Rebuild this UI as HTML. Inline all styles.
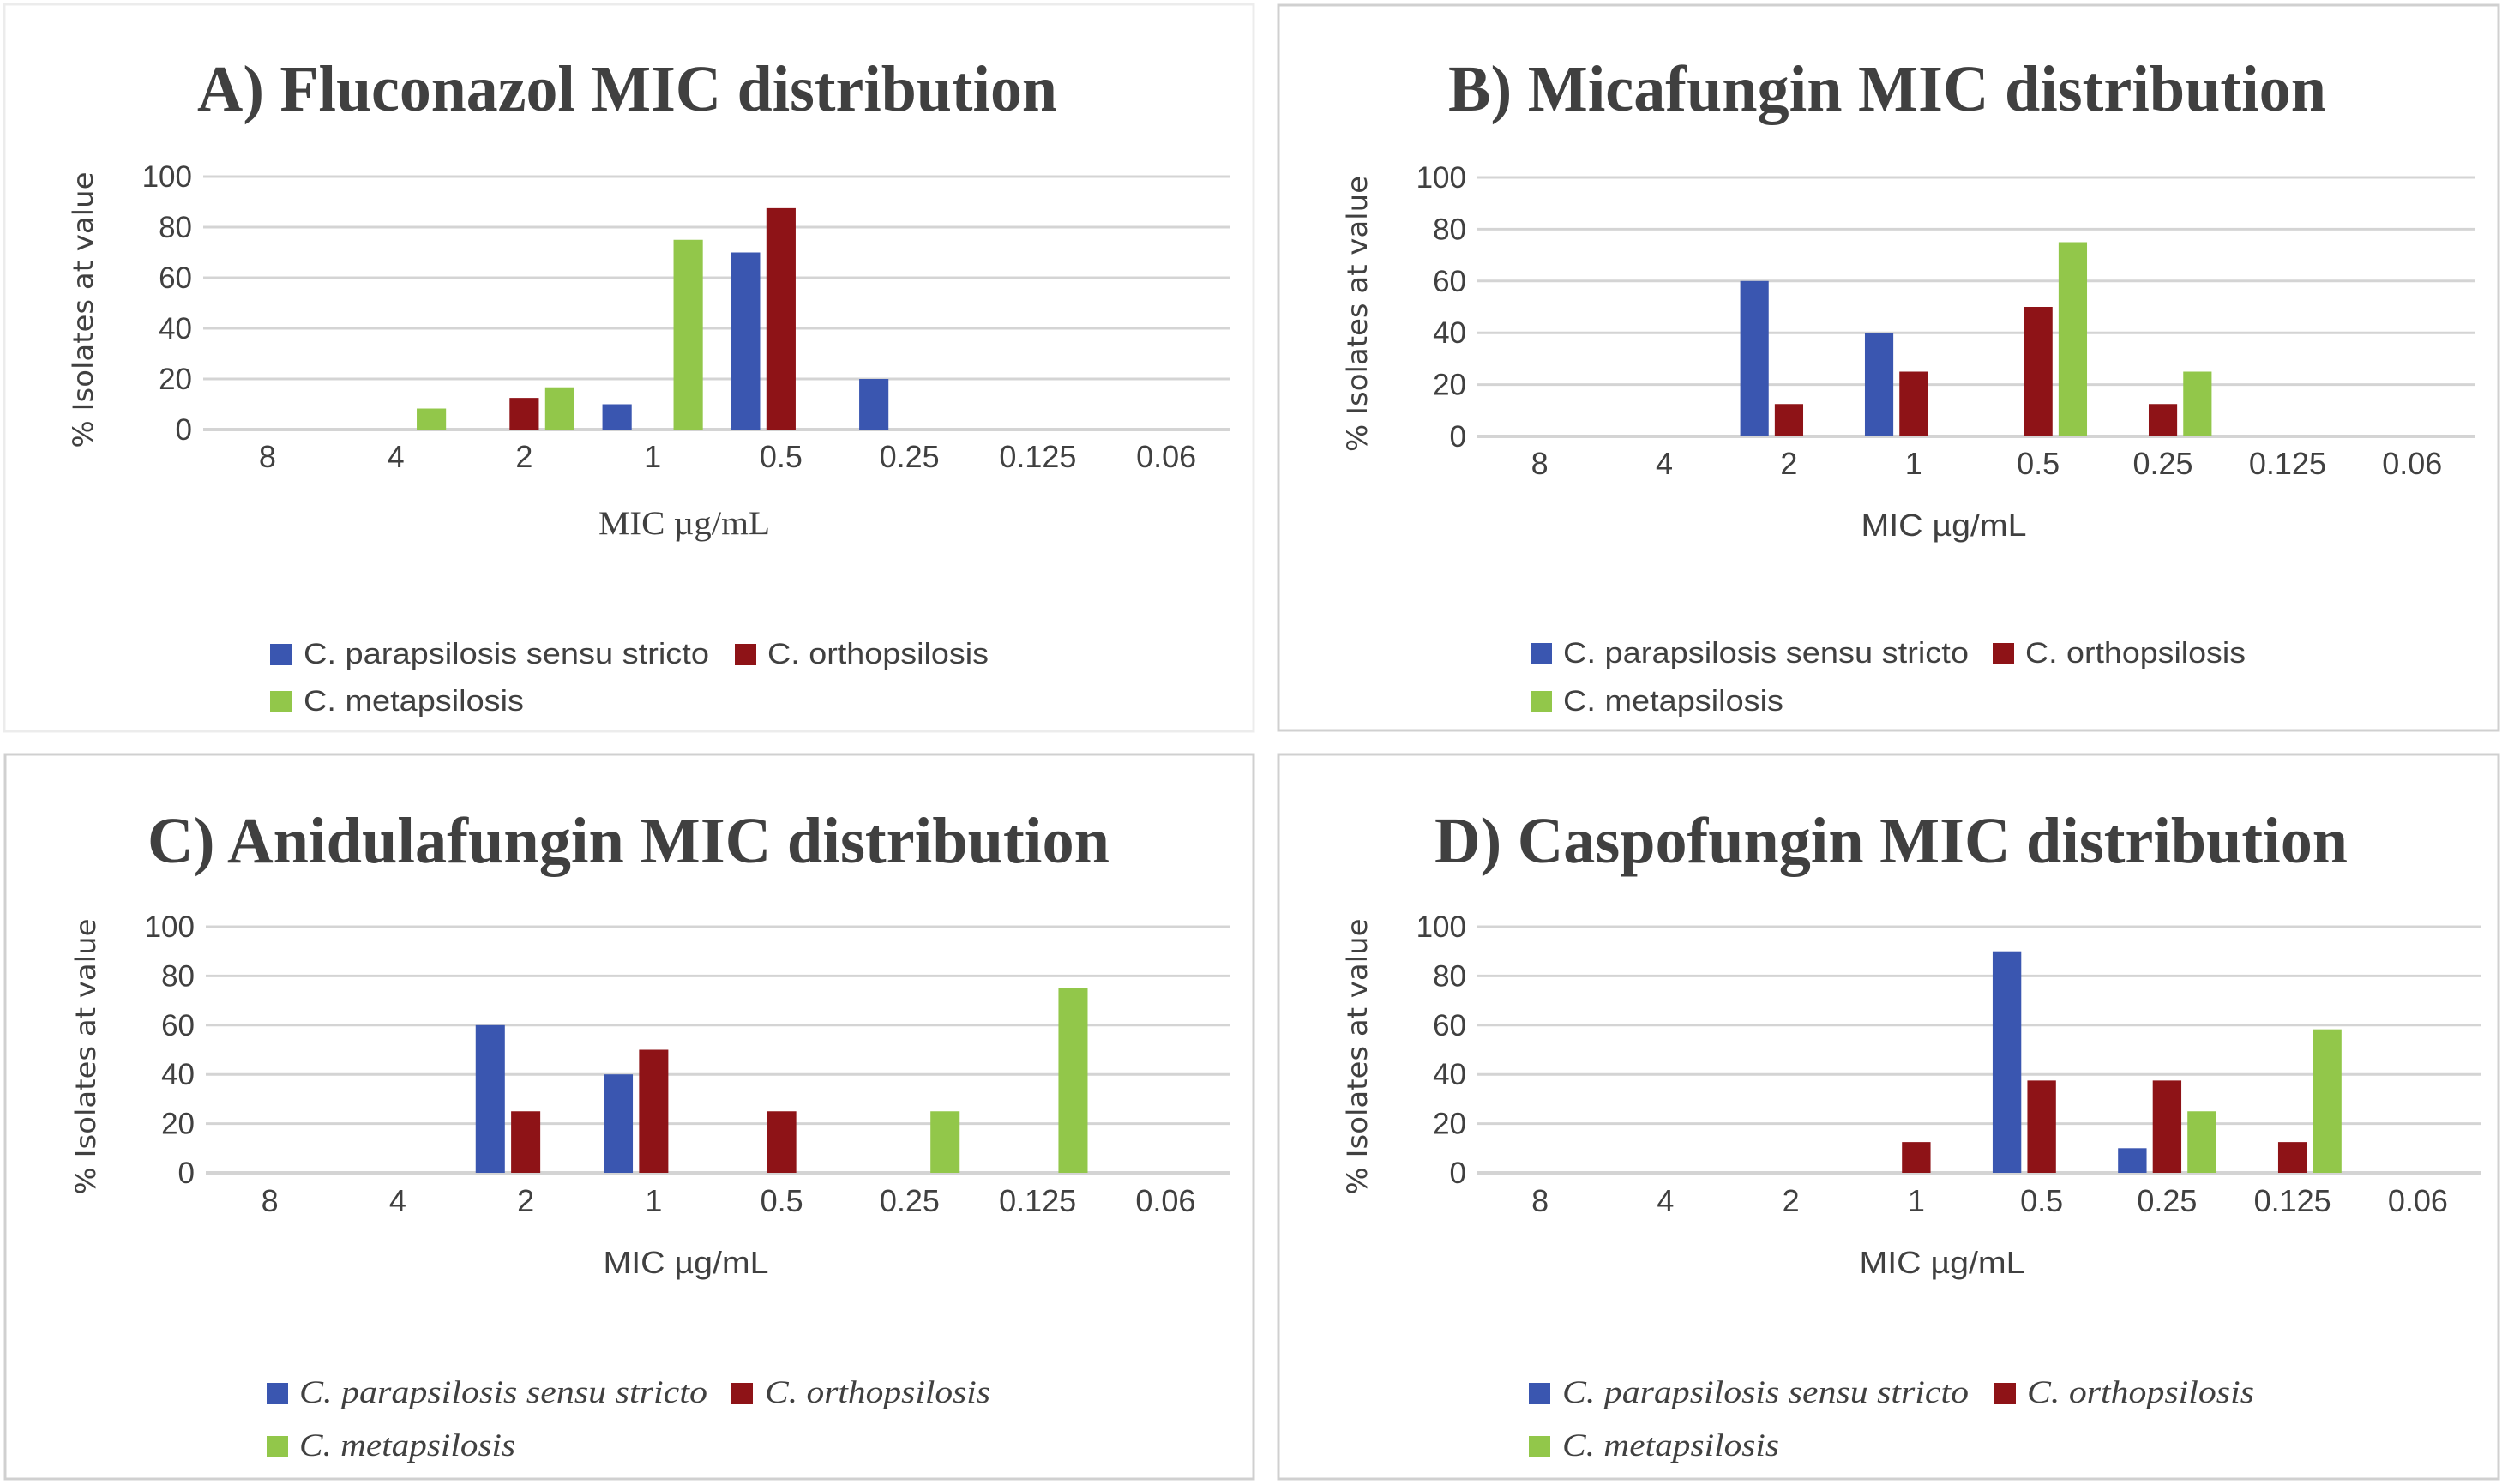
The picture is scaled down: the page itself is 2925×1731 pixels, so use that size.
<!DOCTYPE html>
<html><head><meta charset="utf-8"><style>
html,body{margin:0;padding:0;background:#fff;}
svg{display:block;}
</style></head><body>
<svg id="fig" width="2925" height="1731" viewBox="0 0 2925 1731" xmlns="http://www.w3.org/2000/svg"></svg>
<script>
const categories = ["8","4","2","1","0.5","0.25","0.125","0.06"];
const yTicks = [0,20,40,60,80,100];
const seriesNames = ["C. parapsilosis sensu stricto","C. orthopsilosis","C. metapsilosis"];
const flucoPara  = [0,0,0,10,70,20,0,0];
const flucoOrtho = [0,0,12.5,0,87.5,0,0,0];
const flucoMeta  = [0,8.3,16.7,75,0,0,0,0];
const micaPara   = [0,0,60,40,0,0,0,0];
const micaOrtho  = [0,0,12.5,25,50,12.5,0,0];
const micaMeta   = [0,0,0,0,75,25,0,0];
const anidPara   = [0,0,60,40,0,0,0,0];
const anidOrtho  = [0,0,25,50,25,0,0,0];
const anidMeta   = [0,0,0,0,0,25,75,0];
const caspPara   = [0,0,0,0,90,10,0,0];
const caspOrtho  = [0,0,0,12.5,37.5,37.5,12.5,0];
const caspMeta   = [0,0,0,0,0,25,58.3,0];

const colors = ["#3A56B0","#8E1317","#92C74A"];
const NS = "http://www.w3.org/2000/svg";
const svg = document.getElementById("fig");

const panels = [
 {id:"a", title:"A) Fluconazol MIC distribution", series:[flucoPara,flucoOrtho,flucoMeta],
  border:[5,5,1462,853], borderColor:"#ececec", titleX:[230,1233], titleY:129,
  plot:[237,1435,206,501], xlabY:545, ytitleX:96, xtitle:{x:798,y:623,serif:true,w:200},
  leg:{sq:[315,857,315], tx:[354,895,354], tw:[473,258,257], ry:[751,751,806], italic:false}},
 {id:"b", title:"B) Micafungin MIC distribution", series:[micaPara,micaOrtho,micaMeta],
  border:[1491,6,2914,852], borderColor:"#d0d0d0", titleX:[1689,2713], titleY:129,
  plot:[1723,2886,207,509], xlabY:553, ytitleX:1582, xtitle:{x:2267,y:625,serif:false,w:193},
  leg:{sq:[1785,2324,1785], tx:[1823,2362,1823], tw:[473,257,257], ry:[750,750,806], italic:false}},
 {id:"c", title:"C) Anidulafungin MIC distribution", series:[anidPara,anidOrtho,anidMeta],
  border:[6,880,1462,1725], borderColor:"#d0d0d0", titleX:[172,1294], titleY:1006,
  plot:[240,1434,1081,1368], xlabY:1413, ytitleX:99, xtitle:{x:800,y:1485,serif:false,w:193},
  leg:{sq:[311,853,311], tx:[349,892,349], tw:[476,263,252], ry:[1613,1613,1675], italic:true}},
 {id:"d", title:"D) Caspofungin MIC distribution", series:[caspPara,caspOrtho,caspMeta],
  border:[1491,880,2914,1725], borderColor:"#d0d0d0", titleX:[1673,2738], titleY:1006,
  plot:[1723,2893,1081,1368], xlabY:1413, ytitleX:1582, xtitle:{x:2265,y:1485,serif:false,w:193},
  leg:{sq:[1783,2326,1783], tx:[1822,2364,1822], tw:[474,265,253], ry:[1613,1613,1675], italic:true}}
];

function el(tag, attrs, parent){
  const e = document.createElementNS(NS, tag);
  for (const k in attrs) e.setAttribute(k, attrs[k]);
  parent.appendChild(e);
  return e;
}

panels.forEach(p => {
  const g = el("g", {}, svg);
  
  

  const b = el("rect", {x:p.border[0], y:p.border[1], width:p.border[2]-p.border[0], height:p.border[3]-p.border[1], fill:"#fff", stroke:p.borderColor, "stroke-width":3}, g);
  
  

  const t = el("text", {x:p.titleX[0], y:p.titleY, "font-family":"Liberation Serif, serif", "font-weight":"bold", "font-size":76, fill:"#404040", textLength:p.titleX[1]-p.titleX[0], lengthAdjust:"spacingAndGlyphs"}, g);
  t.textContent = p.title;
  
  

  const [x0,x1,yTop,y0] = p.plot;
  const yScale = v => y0 - (v/100)*(y0-yTop);
  const cw = (x1-x0)/categories.length;
  const xCenter = i => x0 + cw*(i+0.5);

  yTicks.forEach(v => {
    const ln = el("line", {x1:x0, x2:x1, y1:yScale(v), y2:yScale(v), stroke:"#d4d4d4", "stroke-width":v===0?4:3}, g);
    
    
    const tl = el("text", {x:x0-13, y:yScale(v)+12, "text-anchor":"end", "font-family":"Liberation Sans, sans-serif", "font-size":35, fill:"#404040"}, g);
    tl.textContent = String(v);
    
    
  });

  categories.forEach((c,i) => {
    const tl = el("text", {x:xCenter(i), y:p.xlabY, "text-anchor":"middle", "font-family":"Liberation Sans, sans-serif", "font-size":36, fill:"#404040"}, g);
    tl.textContent = c;
    
    
  });

  const bw = cw*0.228, step = cw*0.277;
  p.series.forEach((vals, s) => {
    vals.forEach((v,i) => {
      if (v <= 0) return;
      const cx = xCenter(i) + (s-1)*step;
      const r = el("rect", {x:cx-bw/2, y:yScale(v), width:bw, height:y0-yScale(v), fill:colors[s]}, g);
      
      
    });
  });

  const ycy = (yTop + y0)/2 + 8;
  const yt = el("text", {x:p.ytitleX+12, y:ycy, transform:"rotate(-90 "+(p.ytitleX+12)+" "+ycy+")", "text-anchor":"middle", "font-family":"DejaVu Sans, sans-serif", "font-size":32, fill:"#404040", textLength:322, lengthAdjust:"spacingAndGlyphs"}, g);
  yt.textContent = "% Isolates at value";
  
  

  const xt = el("text", {x:p.xtitle.x, y:p.xtitle.y, "text-anchor":"middle", "font-family":p.xtitle.serif?"Liberation Serif, serif":"Liberation Sans, sans-serif", "font-size":p.xtitle.serif?39:36, fill:"#404040", textLength:p.xtitle.w, lengthAdjust:"spacingAndGlyphs"}, g);
  xt.textContent = "MIC µg/mL";
  
  

  seriesNames.forEach((n,s) => {
    const lg = el("g", {}, g);
    
    
    el("rect", {x:p.leg.sq[s], y:p.leg.ry[s], width:25, height:25, fill:colors[s]}, lg);
    const lt = el("text", {x:p.leg.tx[s], y:p.leg.ry[s]+23, "font-family":p.leg.italic?"Liberation Serif, serif":"Liberation Sans, sans-serif", "font-style":p.leg.italic?"italic":"normal", "font-size":p.leg.italic?37:34, fill:"#404040", textLength:p.leg.tw[s], lengthAdjust:"spacingAndGlyphs"}, lg);
    lt.textContent = n;
  });
});
</script>
</body></html>
